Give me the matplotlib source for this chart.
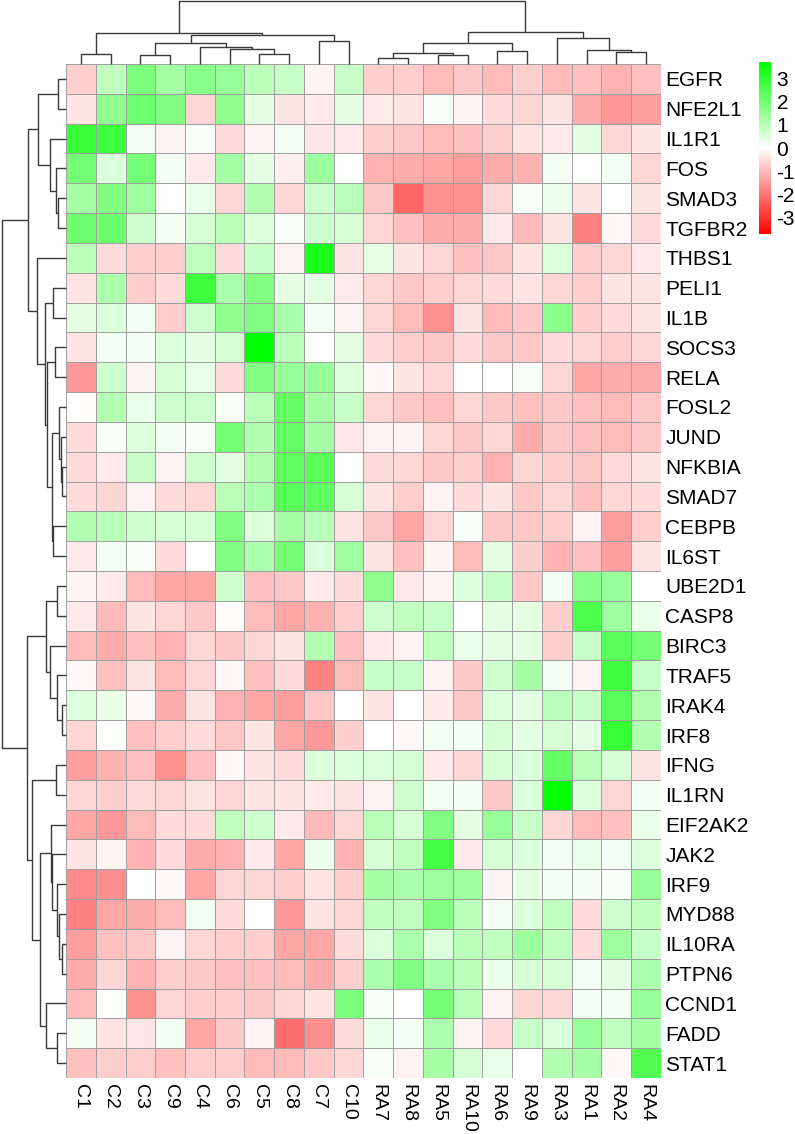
import numpy as np
import matplotlib
matplotlib.use('Agg')
import matplotlib.pyplot as plt
from matplotlib.colors import LinearSegmentedColormap

plt.rcParams['font.family'] = ['Liberation Sans', 'DejaVu Sans']
plt.rcParams['axes.unicode_minus'] = False

# Gene names (rows, top to bottom) and sample names (columns, left to right)
genes = ['EGFR', 'NFE2L1', 'IL1R1', 'FOS', 'SMAD3', 'TGFBR2', 'THBS1', 'PELI1', 'IL1B', 'SOCS3',
         'RELA', 'FOSL2', 'JUND', 'NFKBIA', 'SMAD7', 'CEBPB', 'IL6ST', 'UBE2D1', 'CASP8', 'BIRC3',
         'TRAF5', 'IRAK4', 'IRF8', 'IFNG', 'IL1RN', 'EIF2AK2', 'JAK2', 'IRF9', 'MYD88', 'IL10RA',
         'PTPN6', 'CCND1', 'FADD', 'STAT1']
ctrl_samples = ['C1', 'C2', 'C3', 'C9', 'C4', 'C6', 'C5', 'C8', 'C7', 'C10']
ra_samples = ['RA7', 'RA8', 'RA5', 'RA10', 'RA6', 'RA9', 'RA3', 'RA1', 'RA2', 'RA4']

# Row-scaled expression, control samples
ctrl_vals = [
    [-0.7, 0.9, 1.9, 1.3, 1.7, 1.5, 1.0, 0.8, -0.15, 0.8],      # EGFR
    [-0.4, 1.6, 2.1, 1.8, -0.6, 1.6, 0.4, -0.4, -0.3, 0.4],     # NFE2L1
    [2.9, 2.8, 0.2, -0.15, 0.1, -0.5, -0.2, 0.2, -0.35, -0.3],  # IL1R1
    [2.0, 0.5, 2.0, 0.15, -0.3, 1.3, 0.4, -0.25, 1.4, 0.05],    # FOS
    [1.3, 1.8, 1.4, 0.05, 0.3, -0.6, 1.1, -0.6, 0.7, 1.0],      # SMAD3
    [2.1, 2.1, 0.7, 0.15, 0.6, 1.0, 0.5, 0.1, 0.7, 0.6],        # TGFBR2
    [1.0, -0.5, -0.7, -0.7, 0.9, -0.5, 0.8, -0.2, 3.3, -0.4],   # THBS1
    [-0.4, 1.2, -0.7, -0.5, 2.8, 1.2, 1.8, 0.4, 0.4, -0.3],     # PELI1
    [0.4, 0.5, 0.2, -0.7, 0.7, 1.6, 1.8, 1.2, 0.2, -0.2],       # IL1B
    [-0.4, 0.2, 0.2, 0.5, 0.4, 0.6, 3.7, 1.0, 0.05, 0.4],       # SOCS3
    [-1.5, 0.7, -0.2, 0.6, 0.3, -0.5, 1.8, 1.5, 1.5, 0.5],      # RELA
    [-0.05, 1.1, 0.3, 0.7, 0.7, 0.1, 1.0, 2.2, 1.3, 0.8],       # FOSL2
    [-0.5, 0.1, 0.5, 0.15, 0.1, 2.0, 1.1, 2.2, 1.3, -0.35],     # JUND
    [-0.5, -0.3, 0.8, -0.2, 0.7, 0.4, 1.1, 2.3, 2.4, 0.05],     # NFKBIA
    [-0.5, -0.6, -0.2, -0.5, -0.6, 1.0, 1.2, 2.4, 2.3, 0.6],    # SMAD7
    [1.1, 1.0, 0.7, 0.6, 0.6, 1.8, 0.5, 1.3, 1.0, -0.4],        # CEBPB
    [-0.3, 0.15, 0.1, -0.5, 0.05, 1.8, 1.2, 2.0, 0.5, 1.4],     # IL6ST
    [-0.15, -0.3, -1.0, -1.3, -1.3, 0.7, -0.9, -0.8, -0.3, -0.5],   # UBE2D1
    [-0.3, -1.0, -0.4, -0.6, -0.8, -0.05, -1.0, -1.3, -1.1, -0.7],  # CASP8
    [-1.0, -1.2, -0.9, -1.1, -0.6, -0.8, -0.6, -0.4, 1.1, -0.9],    # BIRC3
    [-0.1, -0.9, -0.4, -1.0, -0.6, -0.1, -0.9, -0.5, -1.8, -1.0],   # TRAF5
    [0.5, 0.3, -0.1, -1.2, -0.4, -1.1, -1.3, -1.4, -0.8, 0.05],     # IRAK4
    [-0.6, 0.05, -0.9, -0.7, -0.5, -0.8, -0.4, -1.3, -1.5, -0.7],   # IRF8
    [-1.4, -1.1, -0.9, -1.6, -0.9, -0.1, -0.4, -0.5, 0.5, 0.5],     # IFNG
    [-0.6, -0.7, -0.5, -0.6, -0.4, -0.6, -0.4, -0.4, -0.3, -0.4],   # IL1RN
    [-1.3, -1.5, -1.0, -0.5, -0.5, 0.9, 0.7, -0.3, -1.0, -0.6],     # EIF2AK2
    [-0.4, -0.15, -1.1, -0.5, -1.2, -1.1, -0.3, -1.3, 0.25, -1.1],  # JAK2
    [-1.7, -1.6, 0.0, -0.1, -1.3, -0.6, -0.6, -0.7, -0.4, -0.7],    # IRF9
    [-1.8, -1.3, -1.2, -1.0, 0.2, -0.5, 0.0, -1.5, -0.4, -0.6],     # MYD88
    [-1.4, -0.9, -0.8, -0.15, -0.6, -0.7, -0.7, -1.3, -1.3, -0.5],  # IL10RA
    [-1.2, -0.6, -1.1, -0.7, -0.8, -0.9, -0.9, -1.0, -1.2, -0.7],   # PTPN6
    [-1.0, 0.05, -1.6, -0.6, -0.7, -0.7, -0.8, -0.6, -0.4, 1.9],    # CCND1
    [0.15, -0.4, -0.35, 0.15, -1.3, -0.8, -0.2, -2.1, -1.6, -0.5],  # FADD
    [-0.9, -0.7, -0.7, -0.9, -0.7, -0.7, -1.0, -1.0, -0.8, -0.6],   # STAT1
]

# Row-scaled expression, RA samples
ra_vals = [
    [-0.7, -0.7, -1.0, -0.8, -1.0, -0.7, -1.0, -0.9, -1.1, -0.9],   # EGFR
    [-0.3, -0.4, 0.1, -0.15, -0.5, -0.6, -0.4, -1.2, -1.5, -1.4],   # NFE2L1
    [-0.7, -0.8, -1.0, -0.9, -0.7, -0.4, -0.3, 0.4, -0.6, -0.4],    # IL1R1
    [-1.1, -1.2, -1.3, -1.4, -1.2, -1.1, 0.15, 0.05, 0.15, -0.6],   # FOS
    [-0.8, -2.2, -1.6, -1.6, -0.6, 0.1, 0.25, -0.4, 0.05, -0.4],    # SMAD3
    [-0.6, -0.9, -1.2, -1.2, -0.3, -1.0, -0.4, -1.8, -0.1, -0.5],   # TGFBR2
    [0.35, -0.4, -0.6, -0.9, -0.8, -0.4, 0.5, -0.7, -0.6, -0.3],    # THBS1
    [-0.6, -0.8, -0.7, -0.6, -0.5, -0.4, -0.6, -0.7, -0.4, -0.4],   # PELI1
    [-0.6, -1.0, -1.6, -0.4, -1.0, -0.8, 1.7, -0.7, -0.5, -0.4],    # IL1B
    [-0.5, -0.7, -0.8, -0.5, -0.8, -0.8, -0.5, -0.6, -0.7, -0.6],   # SOCS3
    [-0.1, -0.4, -0.6, 0.0, 0.05, 0.1, -0.6, -1.3, -1.2, -1.2],     # RELA
    [-0.6, -0.8, -0.9, -0.6, -0.8, -0.9, -0.8, -0.9, -1.0, -0.8],   # FOSL2
    [-0.2, -0.15, -0.6, -0.8, -0.6, -1.2, -0.8, -0.9, -1.0, -0.8],  # JUND
    [-0.5, -0.6, -0.8, -0.7, -1.1, -0.6, -0.7, -0.8, -0.5, -0.4],   # NFKBIA
    [-0.4, -0.7, -0.2, -0.5, -0.4, -0.8, -0.6, -0.9, -0.6, -0.5],   # SMAD7
    [-0.8, -1.3, -0.6, 0.1, -0.8, -0.8, -0.7, -0.2, -1.4, -0.7],    # CEBPB
    [-0.4, -0.9, -0.15, -1.0, 0.4, -0.7, -1.1, -0.9, -1.4, -0.4],   # IL6ST
    [1.6, -0.3, -0.2, 0.5, 0.8, -0.8, 0.2, 1.7, 1.5, 0.0],          # UBE2D1
    [0.7, 0.9, 0.8, 0.0, 0.4, 0.4, -0.7, 2.6, 1.4, 0.3],            # CASP8
    [-0.3, -0.2, 0.9, 0.3, 0.4, 0.4, -0.7, 0.8, 2.4, 2.0],          # BIRC3
    [0.8, 0.8, -0.2, -0.8, 0.7, 1.3, 0.2, -0.15, 2.8, 0.8],         # TRAF5
    [-0.4, 0.0, -0.3, -0.8, 0.5, 0.4, 1.0, 0.8, 2.4, 1.1],          # IRAK4
    [0.0, -0.1, 0.15, 0.2, 0.6, 0.4, 0.6, 0.4, 2.9, 1.1],           # IRF8
    [0.5, 0.6, -0.3, -0.6, 0.6, 0.5, 2.2, 1.0, 0.6, -0.4],          # IFNG
    [-0.2, 0.7, 0.15, 0.2, -0.8, 0.5, 3.6, 0.5, -0.6, 0.2],         # IL1RN
    [1.0, 0.6, 1.8, 0.4, 1.5, 0.8, -0.6, -1.0, -0.9, 0.3],          # EIF2AK2
    [0.6, 0.9, 2.7, -0.3, 0.6, 0.5, 0.2, 0.3, 0.2, 0.5],            # JAK2
    [1.3, 1.2, 1.4, 1.4, -0.15, 0.4, 0.15, 0.15, 0.1, 1.5],         # IRF9
    [0.9, 0.9, 1.8, 1.0, 0.2, 0.5, 0.9, -0.5, 0.7, 0.9],            # MYD88
    [0.5, 1.2, 0.5, 1.0, 0.9, 1.4, 0.9, -0.5, 1.4, 0.8],            # IL10RA
    [1.2, 1.8, 1.2, 1.0, 0.3, 0.6, 0.6, 0.2, 0.4, 1.2],             # PTPN6
    [0.1, 0.0, 2.0, 1.0, -0.2, -0.6, -0.6, 0.2, 0.15, 1.5],         # CCND1
    [0.3, 0.2, 1.2, -0.15, -0.5, 0.8, 0.5, 1.5, 0.9, 1.3],          # FADD
    [0.1, -0.2, 1.3, 0.6, 0.3, 0.0, 1.1, 1.3, -0.1, 2.5],           # STAT1
]

# Clustering trees: (left, right, merge height)
col_tree = (
    (('C1', 'C2', 9.7),
     ((('C3', 'C9', 8.7), ('C4', ('C6', ('C5', 'C8', 9.7), 14.7), 17.3), 21.3),
      ('C7', 'C10', 23.3), 28.7), 31.3),
    (((('RA7', 'RA8', 5.7), ('RA5', 'RA10', 9.0), 11.3), ('RA6', 'RA9', 13.3), 20.7),
     ('RA3', ('RA1', ('RA2', 'RA4', 11.7), 14.0), 25.7), 32.0),
    63.0)

row_upper = (
    (('EGFR', 'NFE2L1', 7.7), ('IL1R1', ('FOS', ('SMAD3', 'TGFBR2', 8.3), 10.0), 16.0), 27.7),
    ('THBS1', (('PELI1', 'IL1B', 12.7),
               (('SOCS3', 'RELA', 11.0),
                (('FOSL2', ('JUND', ('NFKBIA', 'SMAD7', 4.0), 5.0), 7.3), ('CEBPB', 'IL6ST', 13.0), 14.0),
                18.7), 21.3), 29.0),
    37.7)
row_lower = (
    (('UBE2D1', 'CASP8', 9.3), ('BIRC3', ('TRAF5', ('IRAK4', 'IRF8', 4.3), 9.3), 16.0), 20.0),
    (('IFNG', 'IL1RN', 9.7),
     (('EIF2AK2', ('JAK2', ('IRF9', ('MYD88', ('IL10RA', 'PTPN6', 4.0), 6.7), 9.3), 14.0), 15.0),
      ('CCND1', ('FADD', 'STAT1', 8.7), 19.8), 26.5), 33.7),
    39.3)
row_tree = (row_upper, row_lower, 64.0)


def leaves(node):
    if isinstance(node, str):
        return [node]
    return leaves(node[0]) + leaves(node[1])


def draw_tree(ax, node, pos, side):
    # returns (leaf-axis position, height) of the node
    if isinstance(node, str):
        return pos[node], 0.0
    pl, hl = draw_tree(ax, node[0], pos, side)
    pr, hr = draw_tree(ax, node[1], pos, side)
    h = node[2]
    a = [pl, pl, pr, pr]
    b = [hl, h, h, hr]
    if side == 'top':
        ax.plot(a, b, color='#3a3a3a', lw=1.0, clip_on=False, solid_capstyle='butt')
    else:
        ax.plot(b, a, color='#3a3a3a', lw=1.0, clip_on=False, solid_capstyle='butt')
    return (pl + pr) / 2, h


samples = ctrl_samples + ra_samples
assert leaves(col_tree) == samples
assert leaves(row_tree) == genes
data = np.hstack([np.array(ctrl_vals), np.array(ra_vals)])

W, H = 795, 1134
fig = plt.figure(figsize=(W / 100, H / 100), dpi=100)


def px_axes(x0, y0, x1, y1):
    return fig.add_axes([x0 / W, 1 - y1 / H, (x1 - x0) / W, (y1 - y0) / H])


cmap = LinearSegmentedColormap.from_list('rwg', ['#FF0000', '#FFFFFF', '#00FF00'], N=256)

# heatmap
ax = px_axes(66, 64, 661, 1078)
mesh = ax.pcolormesh(data, cmap=cmap, vmin=-3.7, vmax=3.7, edgecolors='#a0a0a0', linewidth=0.6)
ax.set_xlim(0, len(samples))
ax.set_ylim(len(genes), 0)
ax.set_xticks(np.arange(len(samples)) + 0.5)
ax.set_xticklabels(samples, rotation=270, ha='center', va='top', fontsize=14)
ax.yaxis.tick_right()
ax.set_yticks(np.arange(len(genes)) + 0.5)
ax.set_yticklabels(genes, fontsize=15)
ax.tick_params(axis='both', length=0)
ax.tick_params(axis='x', pad=4)
ax.tick_params(axis='y', pad=3)
for s in ax.spines.values():
    s.set_visible(False)

# column dendrogram
ax_c = px_axes(66, 0, 661, 64)
col_pos = {name: i + 0.5 for i, name in enumerate(samples)}
draw_tree(ax_c, col_tree, col_pos, 'top')
ax_c.set_xlim(0, len(samples))
ax_c.set_ylim(0, 64)
ax_c.axis('off')

# row dendrogram
ax_r = px_axes(0, 64, 66, 1078)
row_pos = {name: i + 0.5 for i, name in enumerate(genes)}
draw_tree(ax_r, row_tree, row_pos, 'left')
ax_r.set_xlim(66, 0)
ax_r.set_ylim(len(genes), 0)
ax_r.axis('off')

# colour legend
cax = px_axes(759, 62, 771, 234)
cb = fig.colorbar(mesh, cax=cax, ticks=[-3, -2, -1, 0, 1, 2, 3])
cb.outline.set_visible(False)
cb.ax.tick_params(length=0, labelsize=15, pad=4)

fig.savefig('out.png', dpi=100)
